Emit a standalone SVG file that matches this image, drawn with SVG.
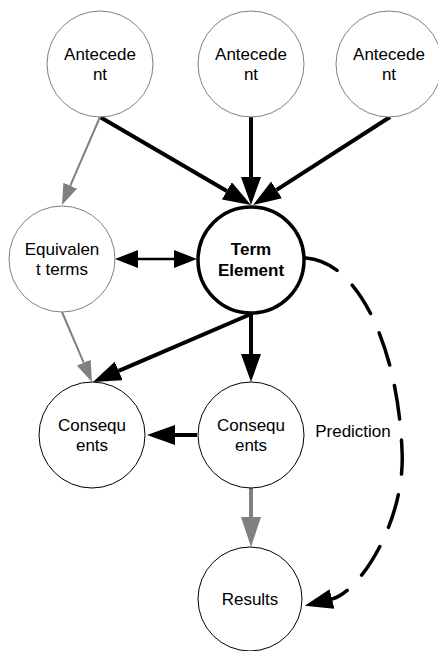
<svg xmlns="http://www.w3.org/2000/svg" width="438" height="651" viewBox="0 0 438 651">
<style>
  text { font-family: "Liberation Sans", Arial, sans-serif; font-size: 17px; fill: #000; text-anchor: middle; }
  .bold { font-weight: bold; }
  .nodeGray { fill: #fff; stroke: #7f7f7f; stroke-width: 1; }
  .nodeBlack { fill: #fff; stroke: #000; stroke-width: 1; }
  .nodeMain { fill: #fff; stroke: #000; stroke-width: 3.5; }
  .eBlack { fill: none; stroke: #000; stroke-width: 4; }
  .eGrayThin { fill: none; stroke: #808080; stroke-width: 2; }
  .eGrayThick { fill: none; stroke: #808080; stroke-width: 4; }
  .eDouble { fill: none; stroke: #000; stroke-width: 2.5; }
  .eDash { fill: none; stroke: #000; stroke-width: 3.5; stroke-dasharray: 34 21; stroke-linecap: round; }
</style>
<defs>
  <marker id="aBlack" viewBox="0 -10 28 20" refX="0" refY="0" markerWidth="28" markerHeight="20" markerUnits="userSpaceOnUse" orient="auto">
    <path d="M0,-10 L28,0 L0,10 z" fill="#000"/>
  </marker>
  <marker id="aGrayBig" viewBox="0 -10 30 20" refX="0" refY="0" markerWidth="30" markerHeight="20" markerUnits="userSpaceOnUse" orient="auto">
    <path d="M0,-10 L30,0 L0,10 z" fill="#808080"/>
  </marker>
  <marker id="aGraySmall" viewBox="0 -7.5 21 15" refX="0" refY="0" markerWidth="21" markerHeight="15" markerUnits="userSpaceOnUse" orient="auto">
    <path d="M0,-7.5 L21,0 L0,7.5 z" fill="#808080"/>
  </marker>
  <marker id="aDouble" viewBox="0 -9 23 18" refX="0" refY="0" markerWidth="23" markerHeight="18" markerUnits="userSpaceOnUse" orient="auto-start-reverse">
    <path d="M0,-9 L23,0 L0,9 z" fill="#000"/>
  </marker>
</defs>

<g id="connectors">
  <line class="eBlack" x1="100" y1="117" x2="226.8" y2="190.9" marker-end="url(#aBlack)"/>
  <line class="eBlack" x1="251" y1="117" x2="251" y2="177" marker-end="url(#aBlack)"/>
  <line class="eBlack" x1="390" y1="117" x2="276.6" y2="189.9" marker-end="url(#aBlack)"/>
  <line class="eGrayThin" x1="100" y1="117" x2="70.3" y2="185.7" marker-end="url(#aGraySmall)"/>
  <line class="eDouble" x1="138" y1="259" x2="174" y2="259" marker-start="url(#aDouble)" marker-end="url(#aDouble)"/>
  <line class="eBlack" x1="251" y1="314" x2="118.7" y2="370.9" marker-end="url(#aBlack)"/>
  <line class="eBlack" x1="251" y1="314" x2="251" y2="354" marker-end="url(#aBlack)"/>
  <line class="eGrayThin" x1="62" y1="312" x2="83.7" y2="362.7" marker-end="url(#aGraySmall)"/>
  <line class="eBlack" x1="197" y1="435" x2="175" y2="435" marker-end="url(#aBlack)"/>
  <line class="eGrayThick" x1="251" y1="488" x2="251" y2="517" marker-end="url(#aGrayBig)"/>
  <path class="eDash" d="M306,258 C360,262 398,350 402,450 C406,520 360,592 332,599" marker-end="url(#aBlack)"/>
  <text x="353" y="437">Prediction</text>
</g>

<g id="antecedent1">
  <circle class="nodeGray" cx="100" cy="64" r="53"/>
  <text x="100" y="60">Antecede</text>
  <text x="100" y="80">nt</text>
</g>
<g id="antecedent2">
  <circle class="nodeGray" cx="251" cy="64" r="53"/>
  <text x="251" y="60">Antecede</text>
  <text x="251" y="80">nt</text>
</g>
<g id="antecedent3">
  <circle class="nodeGray" cx="389" cy="64" r="53"/>
  <text x="389" y="60">Antecede</text>
  <text x="389" y="80">nt</text>
</g>
<g id="equivalent">
  <circle class="nodeGray" cx="62" cy="259" r="53"/>
  <text x="62" y="255">Equivalen</text>
  <text x="62" y="275">t terms</text>
</g>
<g id="term-element">
  <circle class="nodeMain" cx="251" cy="260" r="53"/>
  <text class="bold" x="251" y="255">Term</text>
  <text class="bold" x="251" y="276">Element</text>
</g>
<g id="consequents-left">
  <circle class="nodeBlack" cx="92" cy="435" r="53"/>
  <text x="92" y="431">Consequ</text>
  <text x="92" y="451">ents</text>
</g>
<g id="consequents-mid">
  <circle class="nodeBlack" cx="251" cy="435" r="53"/>
  <text x="251" y="431">Consequ</text>
  <text x="251" y="451">ents</text>
</g>
<g id="results">
  <circle class="nodeBlack" cx="250" cy="599" r="52"/>
  <text x="250" y="605">Results</text>
</g>
</svg>
